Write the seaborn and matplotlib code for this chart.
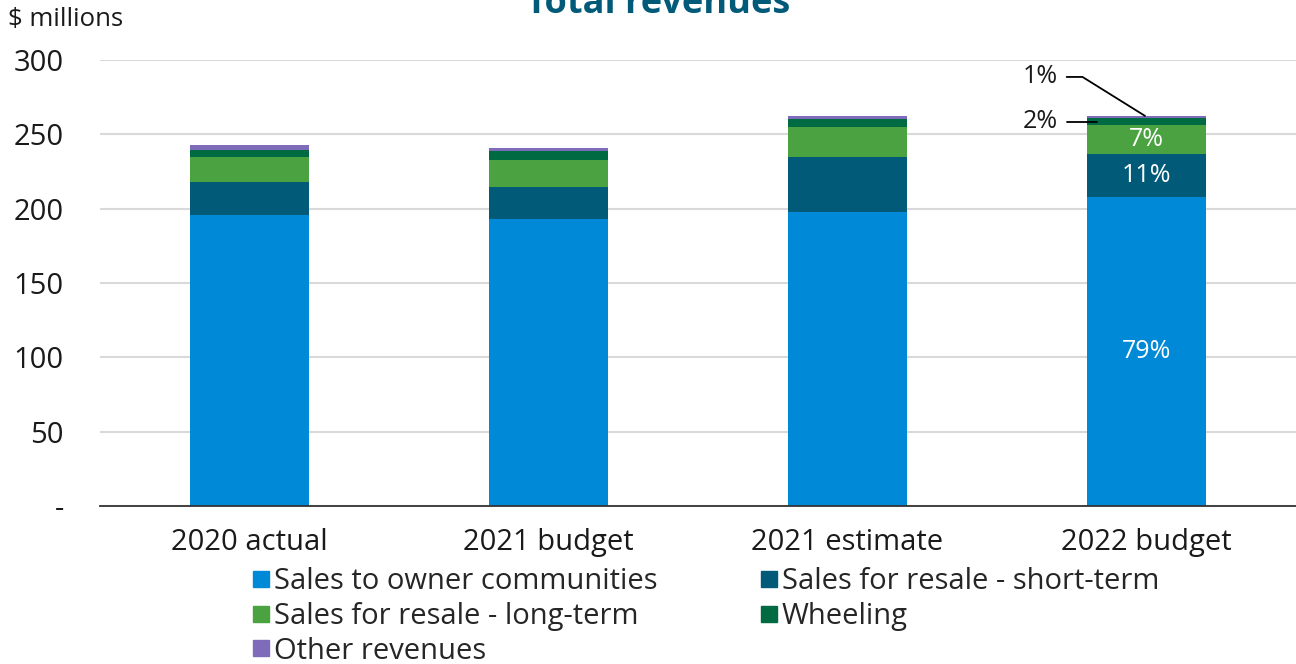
import matplotlib
matplotlib.use("Agg")
import matplotlib.pyplot as plt
from matplotlib.lines import Line2D
import seaborn as sns
import numpy as np
import pandas as pd

categories = ["2020 actual", "2021 budget", "2021 estimate", "2022 budget"]
series_names = ["Sales to owner communities", "Sales for resale - short-term",
                "Sales for resale - long-term", "Wheeling", "Other revenues"]
owner = [195.7, 193.0, 197.5, 207.8]
short_term = [22.4, 21.6, 37.5, 29.0]
long_term = [16.6, 18.1, 19.9, 19.3]
wheeling = [4.8, 6.1, 5.4, 4.8]
other = [3.1, 1.8, 1.8, 1.5]
y_ticks = [0, 50, 100, 150, 200, 250, 300]
y_tick_labels = ["-", "50", "100", "150", "200", "250", "300"]

colors = ["#0089d6", "#005a78", "#4aa240", "#006a43", "#7e6bba"]
text_color = "#1a1a1a"

sns.set_theme(style="white")
plt.rcParams["font.family"] = ["Open Sans", "DejaVu Sans"]

fig = plt.figure(figsize=(12.96, 6.64), dpi=100)
ax = fig.add_axes([100 / 1296, 1 - 506 / 664, 1196 / 1296, 446 / 664])

layers = [owner, short_term, long_term, wheeling, other]
tops = np.cumsum(np.array(layers), axis=0)
df = pd.DataFrame({"category": categories})
# draw cumulative totals from the tallest down so each segment shows its own colour
for i in range(len(layers) - 1, -1, -1):
    df["top"] = tops[i]
    sns.barplot(data=df, x="category", y="top", color=colors[i], width=0.4,
                saturation=1, ax=ax, zorder=2, linewidth=0)

ax.set_ylim(0, 300)
ax.set_xlim(-0.5, 3.5)
ax.set_yticks(y_ticks)
ax.set_yticklabels(y_tick_labels)
ax.set_xlabel("")
ax.set_ylabel("")
ax.yaxis.grid(True, color="#d9d9d9", linewidth=1.5, zorder=0)
ax.set_axisbelow(True)
for s in ["top", "right", "left"]:
    ax.spines[s].set_visible(False)
ax.spines["bottom"].set_color("#333333")
ax.spines["bottom"].set_linewidth(1.3)
ax.tick_params(axis="y", length=0, pad=26, labelsize=21, colors=text_color)
ax.tick_params(axis="x", length=0, pad=16, labelsize=21, colors=text_color)

# share labels on the last bar
j = 3
total = tops[-1][j]
pct = [round(v[j] / total * 100) for v in layers]
bottoms = [0] + list(tops[:-1, j])
for k in range(3):
    ax.text(j, bottoms[k] + layers[k][j] / 2, f"{pct[k]}%", ha="center", va="center",
            color="white", fontsize=18)
# wheeling callout
yw = bottoms[3] + layers[3][j] / 2
ax.text(j - 0.297, yw, f"{pct[3]}%", ha="right", va="center", fontsize=18, color=text_color)
ax.plot([j - 0.267, j - 0.165], [yw, yw], color="black", lw=1.3, clip_on=False)
# other revenues callout
yo_lab = 288.6
ax.text(j - 0.297, yo_lab, f"{pct[4]}%", ha="right", va="center", fontsize=18, color=text_color)
ax.plot([j - 0.267, j - 0.214, j - 0.005], [yo_lab, yo_lab, total],
        color="black", lw=1.3, clip_on=False)

fig.text(8 / 1296, 1 - 20 / 664, "$ millions", fontsize=18.5, va="center", ha="left",
         color=text_color)
fig.text(658 / 1296, 1 - 13 / 664, "Total revenues", fontsize=26, fontweight="bold",
         color="#005a78", ha="center", va="baseline")

handles = [Line2D([], [], marker="s", linestyle="", markersize=11,
                  markerfacecolor=c, markeredgecolor=c) for c in colors]
order = [0, 2, 4, 1, 3]
fig.legend([handles[i] for i in order], [series_names[i] for i in order],
           ncol=2, loc="upper left", bbox_to_anchor=(248 / 1296, 1 - 567 / 664),
           frameon=False, fontsize=21, handletextpad=0.0, columnspacing=3.35,
           labelspacing=0.2, borderaxespad=0, handlelength=0.9, borderpad=0)

fig.savefig("out.png", dpi=100)
